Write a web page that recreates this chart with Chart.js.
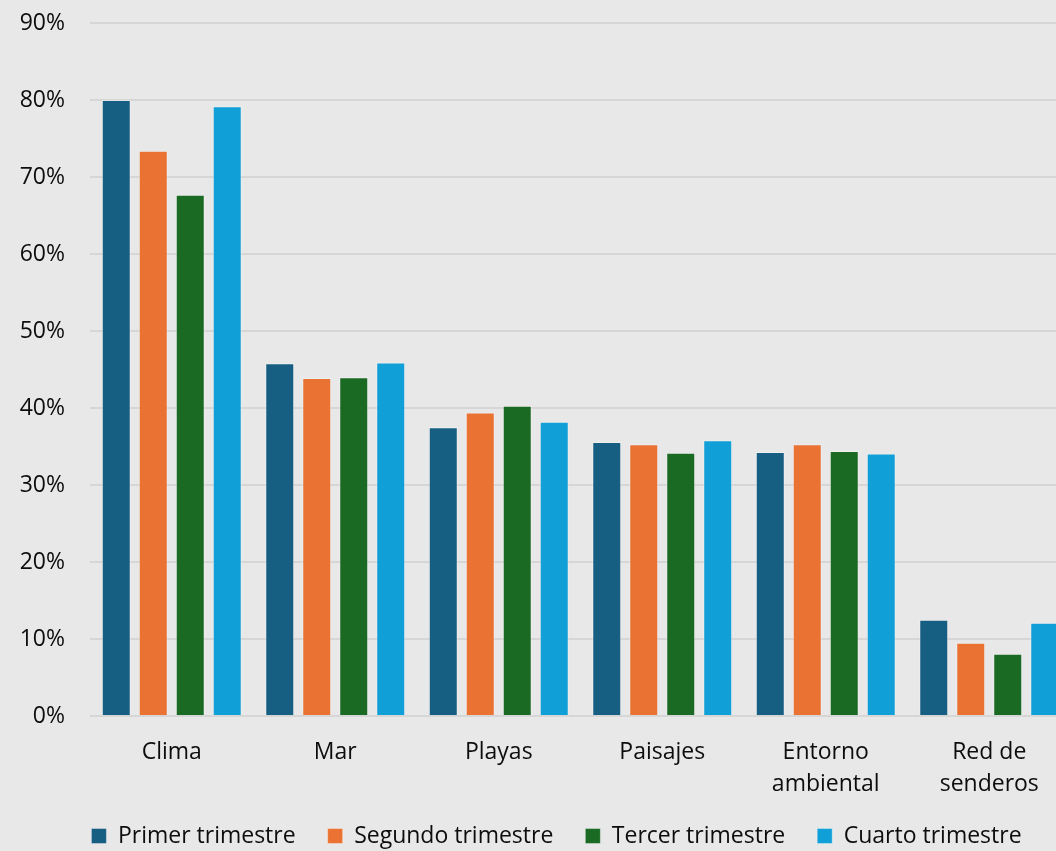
<!DOCTYPE html>
<html>
<head>
<meta charset="utf-8">
<script src="https://cdn.jsdelivr.net/npm/chart.js@4.4.1/dist/chart.umd.min.js"></script>
<style>
  html, body { margin: 0; padding: 0; background: #e8e8e8; overflow: hidden; }
  #wrap { position: relative; width: 1072px; height: 851px; }
</style>
</head>
<body>
<div id="wrap"><canvas id="c"></canvas></div>
<script>
const categories = ['Clima', 'Mar', 'Playas', 'Paisajes', ['Entorno', 'ambiental'], ['Red de', 'senderos']];
const seriesNames = ['Primer trimestre', 'Segundo trimestre', 'Tercer trimestre', 'Cuarto trimestre'];
const primer   = [80.0, 45.8, 37.5, 35.6, 34.3, 12.5];
const segundo  = [73.4, 43.9, 39.4, 35.3, 35.3, 9.5];
const tercer   = [67.7, 44.0, 40.3, 34.2, 34.4, 8.1];
const cuarto   = [79.2, 45.9, 38.2, 35.8, 34.1, 12.1];
const colors = ['#175f82', '#ea7334', '#1b6a24', '#119fd7'];
const yTicks = [0, 10, 20, 30, 40, 50, 60, 70, 80, 90];

const FONT = "'Open Sans', 'Noto Sans', sans-serif";
const seriesValues = [primer, segundo, tercer, cuarto];
const LEGEND_PAD = 32;

const placeLegend = {
  id: 'placeLegend',
  afterLayout(chart) {
    const lg = chart.legend;
    lg.left += 42;
    lg.top = 836 - 11.5 - LEGEND_PAD;
    lg.bottom = chart.height;
    lg.height = lg.bottom - lg.top;
  }
};

new Chart(document.getElementById('c'), {
  type: 'bar',
  data: {
    labels: categories,
    datasets: seriesNames.map((n, i) => ({
      label: n,
      data: seriesValues[i],
      backgroundColor: colors[i],
      borderColor: 'rgba(255,255,255,0.35)',
      borderWidth: 1,
      categoryPercentage: 0.905,
      barPercentage: 0.784
    }))
  },
  options: {
    responsive: true,
    maintainAspectRatio: false,
    animation: false,
    devicePixelRatio: 1,
    layout: { padding: { top: 23, left: 0, right: 1, bottom: 0 } },
    plugins: {
      tooltip: { enabled: false },
      legend: {
        position: 'bottom',
        maxHeight: 35,
        labels: {
          font: { family: FONT, size: 23 },
          color: '#0d0d0d',
          boxWidth: 15,
          boxHeight: 15,
          padding: LEGEND_PAD
        }
      }
    },
    scales: {
      x: {
        grid: { display: false, drawTicks: false },
        border: { display: false },
        ticks: {
          font: { family: FONT, size: 23, lineHeight: 1.4 },
          color: '#0d0d0d',
          padding: 20,
          maxRotation: 0,
          autoSkip: false
        },
        afterFit(scale) { scale.height = 100; }
      },
      y: {
        min: 0,
        max: 90,
        afterBuildTicks(scale) { scale.ticks = yTicks.map(v => ({ value: v })); },
        grid: { color: '#d6d6d6', lineWidth: 2, drawTicks: true, tickLength: 25, tickColor: 'rgba(0,0,0,0)' },
        border: { display: false },
        ticks: {
          font: { family: FONT, size: 23 },
          color: '#0d0d0d',
          padding: 0,
          callback: v => v + '%'
        },
        afterFit(scale) { scale.width = 90; }
      }
    }
  },
  plugins: [placeLegend]
});
</script>
</body>
</html>
